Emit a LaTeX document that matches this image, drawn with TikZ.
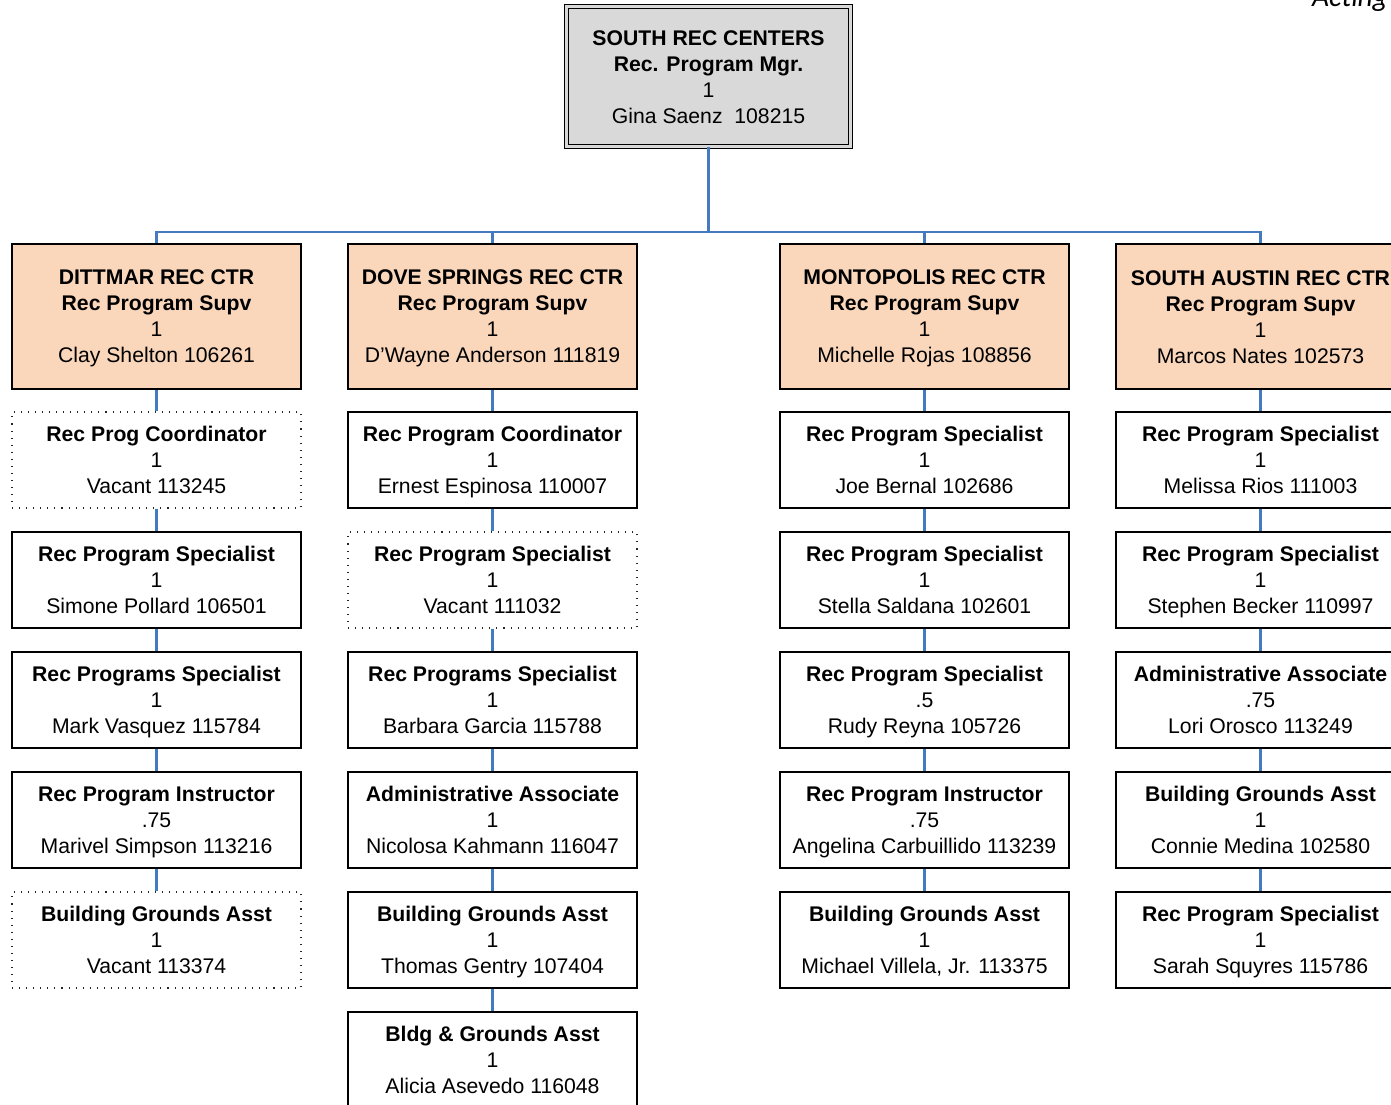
\documentclass[tikz,border=0pt]{standalone}
\usepackage{fontspec}
\setmainfont{Liberation Sans}
\newfontfamily\actfont{Carlito}
\definecolor{peach}{RGB}{250,215,187}
\definecolor{topgray}{RGB}{217,217,217}
\definecolor{connblue}{RGB}{70,122,190}
\newcommand\lnstr{\rule[-3pt]{0pt}{17.4pt}}
\newcommand\bxthree[3]{\lnstr\textbf{#1}\\\lnstr#2\\\lnstr#3}
\newcommand\bxfour[4]{\lnstr\textbf{#1}\\\lnstr\textbf{#2}\\\lnstr#3\\\lnstr#4}
\begin{document}
\begin{tikzpicture}[x=0.75pt,y=-0.75pt,
  every node/.style={font=\fontsize{15.9}{19.5}\selectfont, align=center, inner sep=0pt},
  box/.style={rectangle, draw=black, line width=1.2pt, fill=white, minimum width=216.75pt, minimum height=72pt},
  vacbox/.style={rectangle, draw=black!85, line width=1pt, dash pattern=on 0.8pt off 4.5pt, fill=white, minimum width=216.75pt, minimum height=72pt},
  ctrbox/.style={rectangle, draw=black, line width=1.2pt, fill=peach, minimum width=216.75pt, minimum height=108.75pt},
  topbox/.style={rectangle, draw=black, line width=0.9pt, double=topgray, double distance=2.5pt, fill=topgray, minimum width=213pt, minimum height=105pt},
  conn/.style={draw=connblue, line width=1.6pt}]
\useasboundingbox (0,0) rectangle (1391,1104);

\node[anchor=base east, font=\actfont\itshape\fontsize{22}{26}\selectfont] (act) at (1388,6) {Acting};

\node[topbox] (top) at (708.5,76.5) {\bxfour{SOUTH REC CENTERS}{Rec. Program Mgr.}{1}{Gina Saenz\ \ 108215}};

\node[ctrbox] (c1) at (156.5,316.5) {\bxfour{DITTMAR REC CTR}{Rec Program Supv}{1}{Clay Shelton 106261}};
\node[ctrbox] (c2) at (492.5,316.5) {\bxfour{DOVE SPRINGS REC CTR}{Rec Program Supv}{1}{D’Wayne Anderson 111819}};
\node[ctrbox] (c3) at (924.5,316.5) {\bxfour{MONTOPOLIS REC CTR}{Rec Program Supv}{1}{Michelle Rojas 108856}};
\node[ctrbox] (c4) at (1260.5,316.5) {\bxfour{SOUTH AUSTIN REC CTR}{Rec Program Supv}{1}{Marcos Nates 102573}};

\coordinate (bus) at (708.5,232);
\draw[conn] (top.south) -- (bus);
\draw[conn] (bus) -| (c1.north);
\draw[conn] (bus) -| (c2.north);
\draw[conn] (bus) -| (c3.north);
\draw[conn] (bus) -| (c4.north);

% Dittmar column
\node[vacbox] (a1) at (156.5,460) {\bxthree{Rec Prog Coordinator}{1}{Vacant 113245}};
\node[box] (a2) at (156.5,580) {\bxthree{Rec Program Specialist}{1}{Simone Pollard 106501}};
\node[box] (a3) at (156.5,700) {\bxthree{Rec Programs Specialist}{1}{Mark Vasquez 115784}};
\node[box] (a4) at (156.5,820) {\bxthree{Rec Program Instructor}{.75}{Marivel Simpson 113216}};
\node[vacbox] (a5) at (156.5,940) {\bxthree{Building Grounds Asst}{1}{Vacant 113374}};

% Dove Springs column
\node[box] (b1) at (492.5,460) {\bxthree{Rec Program Coordinator}{1}{Ernest Espinosa 110007}};
\node[vacbox] (b2) at (492.5,580) {\bxthree{Rec Program Specialist}{1}{Vacant 111032}};
\node[box] (b3) at (492.5,700) {\bxthree{Rec Programs Specialist}{1}{Barbara Garcia 115788}};
\node[box] (b4) at (492.5,820) {\bxthree{Administrative Associate}{1}{Nicolosa Kahmann 116047}};
\node[box] (b5) at (492.5,940) {\bxthree{Building Grounds Asst}{1}{Thomas Gentry 107404}};
\node[box] (b6) at (492.5,1060) {\bxthree{Bldg \& Grounds Asst}{1}{Alicia Asevedo 116048}};

% Montopolis column
\node[box] (m1) at (924.5,460) {\bxthree{Rec Program Specialist}{1}{Joe Bernal 102686}};
\node[box] (m2) at (924.5,580) {\bxthree{Rec Program Specialist}{1}{Stella Saldana 102601}};
\node[box] (m3) at (924.5,700) {\bxthree{Rec Program Specialist}{.5}{Rudy Reyna 105726}};
\node[box] (m4) at (924.5,820) {\bxthree{Rec Program Instructor}{.75}{Angelina Carbuillido 113239}};
\node[box] (m5) at (924.5,940) {\bxthree{Building Grounds Asst}{1}{Michael Villela, Jr. 113375}};

% South Austin column
\node[box] (s1) at (1260.5,460) {\bxthree{Rec Program Specialist}{1}{Melissa Rios 111003}};
\node[box] (s2) at (1260.5,580) {\bxthree{Rec Program Specialist}{1}{Stephen Becker 110997}};
\node[box] (s3) at (1260.5,700) {\bxthree{Administrative Associate}{.75}{Lori Orosco 113249}};
\node[box] (s4) at (1260.5,820) {\bxthree{Building Grounds Asst}{1}{Connie Medina 102580}};
\node[box] (s5) at (1260.5,940) {\bxthree{Rec Program Specialist}{1}{Sarah Squyres 115786}};

\foreach \u/\v in {c1/a1,a1/a2,a2/a3,a3/a4,a4/a5,
                   c2/b1,b1/b2,b2/b3,b3/b4,b4/b5,b5/b6,
                   c3/m1,m1/m2,m2/m3,m3/m4,m4/m5,
                   c4/s1,s1/s2,s2/s3,s3/s4,s4/s5}
  \draw[conn] (\u.south) -- (\v.north);
\end{tikzpicture}
\end{document}
